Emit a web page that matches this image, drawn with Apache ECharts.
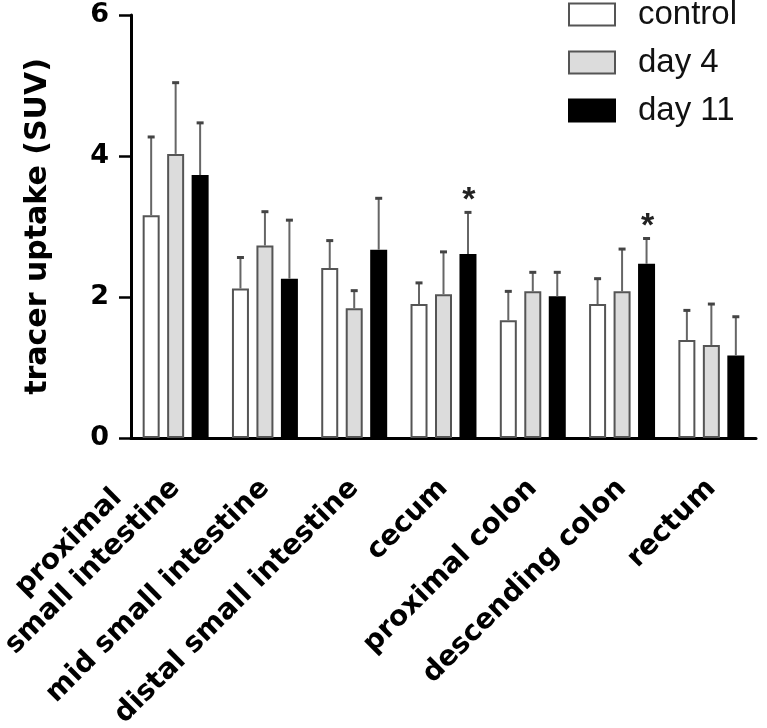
<!DOCTYPE html>
<html><head><meta charset="utf-8">
<script src="https://cdn.jsdelivr.net/npm/echarts@6/dist/echarts.min.js"></script>
<style>html,body{margin:0;padding:0;background:#fff}#c{width:767px;height:728px}</style>
</head><body><div id="c"></div>
<script>
const categories = ['proximal\nsmall intestine', 'mid small intestine', 'distal small intestine', 'cecum', 'proximal colon', 'descending colon', 'rectum'];
const seriesNames = ['control', 'day 4', 'day 11'];
const controlMean = [3.16, 2.12, 2.41, 1.90, 1.67, 1.90, 1.39];
const controlSD   = [1.11, 0.44, 0.39, 0.30, 0.41, 0.36, 0.42];
const day4Mean    = [4.03, 2.73, 1.84, 2.04, 2.08, 2.08, 1.32];
const day4SD      = [1.01, 0.48, 0.25, 0.60, 0.27, 0.60, 0.58];
const day11Mean   = [3.73, 2.26, 2.67, 2.61, 2.01, 2.47, 1.17];
const day11SD     = [0.74, 0.83, 0.73, 0.59, 0.34, 0.36, 0.55];
const day11Sig    = ['', '', '', '*', '', '*', ''];
const yTicks = [0, 2, 4, 6];

const FONT = 'DejaVu Sans';
const BAR_W = 17;
const BAR_GAP = 0.44;
const means = [controlMean, day4Mean, day11Mean];
const sds = [controlSD, day4SD, day11SD];
const sigs = [null, null, day11Sig];
const fills = ['#ffffff', '#dcdcdc', '#000000'];
const borders = ['#555555', '#555555', '#000000'];

const chart = echarts.init(document.getElementById('c'));

function sigOf(s, i) { return sigs[s] ? sigs[s][i] : ''; }

const series = [];
seriesNames.forEach((name, s) => {
  series.push({
    name: name,
    type: 'bar',
    data: means[s],
    barWidth: BAR_W,
    barGap: (BAR_GAP * 100) + '%',
    itemStyle: { color: fills[s], borderColor: borders[s], borderWidth: 2 },
    emphasis: { disabled: true },
    z: 2
  });
});
seriesNames.forEach((name, s) => {
  series.push({
    name: name + ' err',
    type: 'custom',
    z: 3,
    data: means[s].map((m, i) => [i, m, m + sds[s][i]]),
    renderItem: function (params, api) {
      const i = api.value(0);
      const base = api.coord([i, api.value(1)]);
      const top = api.coord([i, api.value(2)]);
      const off = (s - 1) * BAR_W * (1 + BAR_GAP);
      const x = base[0] + off;
      const children = [
        { type: 'line', shape: { x1: x, y1: base[1], x2: x, y2: top[1] }, style: { stroke: '#666', lineWidth: 2 } },
        { type: 'line', shape: { x1: x - 3.5, y1: top[1], x2: x + 3.5, y2: top[1] }, style: { stroke: '#444', lineWidth: 3 } }
      ];
      const star = sigOf(s, i);
      if (star) {
        children.push({ type: 'text', style: { text: star, x: x + 1, y: top[1] - 12, align: 'center', verticalAlign: 'middle', font: 'bold 34px "Liberation Sans"', fill: '#222' } });
      }
      return { type: 'group', children: children };
    }
  });
});

chart.setOption({
  animation: false,
  backgroundColor: '#fff',
  grid: { left: 131, right: 11, top: 15, bottom: 290, containLabel: false, outerBoundsMode: 'none' },
  legend: {
    data: seriesNames,
    orient: 'vertical',
    left: 568,
    top: -2,
    padding: 0,
    itemWidth: 46,
    itemHeight: 22,
    itemGap: 15,
    icon: 'rect',
    selectedMode: false,
    textStyle: { fontFamily: 'Liberation Sans', fontSize: 33, color: '#111', padding: [0, 0, 0, 18] }
  },
  xAxis: {
    type: 'category',
    data: categories,
    axisLine: { lineStyle: { color: '#000', width: 3 } },
    axisTick: { alignWithLabel: true, length: 10, lineStyle: { color: '#000', width: 2 } },
    axisLabel: {
      interval: 0,
      rotate: 45,
      margin: 46,
      fontFamily: FONT,
      fontWeight: 'bold',
      fontSize: 28,
      color: '#000',
      lineHeight: 34,
      formatter: function (v) {
        const lines = v.split('\n');
        const parts = lines.map(t => '{c|' + t + '}');
        // keep the last line on the tick anchor: pad with blank lines below
        for (let k = 1; k < lines.length; k++) parts.push('{c| }');
        return parts.join('\n');
      },
      rich: { c: { align: 'center', fontFamily: FONT, fontWeight: 'bold', fontSize: 28, color: '#000', lineHeight: 34 } }
    }
  },
  yAxis: {
    type: 'value',
    min: yTicks[0],
    max: yTicks[yTicks.length - 1],
    interval: yTicks[1] - yTicks[0],
    name: 'tracer uptake (SUV)',
    nameLocation: 'middle',
    nameGap: 78,
    nameTextStyle: { fontFamily: FONT, fontWeight: 'bold', fontSize: 30, color: '#000' },
    axisLine: { show: true, lineStyle: { color: '#000', width: 3 } },
    axisTick: { show: true, length: 12, lineStyle: { color: '#000', width: 2.5 } },
    splitLine: { show: false },
    axisLabel: { margin: 22, fontFamily: FONT, fontWeight: 'bold', fontSize: 27, color: '#000' }
  },
  series: series
});
</script>
</body></html>
